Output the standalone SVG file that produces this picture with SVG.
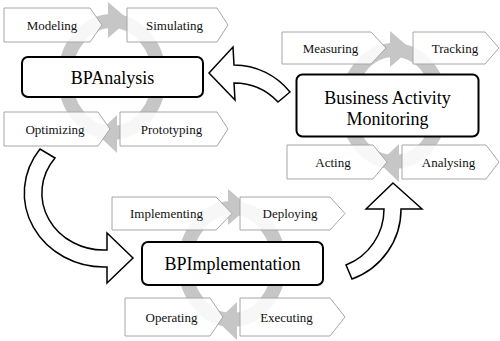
<svg xmlns="http://www.w3.org/2000/svg" xmlns:xlink="http://www.w3.org/1999/xlink" width="500" height="341" viewBox="0 0 500 341">
<style>
.tag{fill:#ffffff;fill-opacity:0.86;stroke:#a6a6a6;stroke-width:1}
.tt{font-family:"Liberation Serif","Times New Roman",serif;font-size:13px;fill:#111;text-anchor:middle}
.box{fill:#ffffff;stroke:#000;stroke-width:2}
.bt{font-family:"Liberation Serif","Times New Roman",serif;font-size:18px;fill:#000;text-anchor:middle}
.big{fill:#ffffff;stroke:#000;stroke-width:1.5;stroke-linejoin:miter}
.ringband{fill:none;stroke:#c6c6c6;stroke-width:14}
.ringhead{fill:#c6c6c6}
</style>
<defs>
<g id="ring">
<ellipse class="ringband" cx="0" cy="0" rx="47" ry="56"/>
<polygon class="ringhead" points="-4,-75 -4,-39 17,-57"/>
<polygon class="ringhead" points="5,38 5,76 -15,57"/>
</g>
</defs>
<rect width="500" height="341" fill="#ffffff"/>
<g id="rings">
<use xlink:href="#ring" href="#ring" transform="translate(112,77)"/>
<use xlink:href="#ring" href="#ring" transform="translate(394,106)"/>
<use xlink:href="#ring" href="#ring" transform="translate(232,264)"/>
</g>
<g id="connectors">
<path class="big" d="M209,73 L233,47 L234,65 A72 72 0 0 1 290,92 L278,102 A60 60 0 0 0 234,83 L235,100 Z"/>
<path class="big" d="M55,158 L40,149 A80 74 0 0 0 107,267 L107,283 L133,258 L107,233 L107,250 A62 57 0 0 1 55,158 Z"/>
<path class="big" d="M393,183 L422,209 L401,209 A74 74 0 0 1 352,279 L346,265 A60 60 0 0 0 384,209 L366,209 Z"/>
</g>
<g id="modeling"><polygon class="tag" points="4,8 90,8 102,25 90,42 4,42"/><text class="tt" x="52" y="29.5">Modeling</text></g>
<g id="simulating"><polygon class="tag" points="127,8 217,8 228,25 217,42 127,42"/><text class="tt" x="174.5" y="29.5">Simulating</text></g>
<g id="optimizing"><polygon class="tag" points="4,112 98,112 110,129 98,146 4,146"/><text class="tt" x="55" y="133.5">Optimizing</text></g>
<g id="prototyping"><polygon class="tag" points="120,112 217,112 228,129 217,146 120,146"/><text class="tt" x="171.5" y="133.5">Prototyping</text></g>
<g id="bpanalysis"><rect class="box" x="22" y="57" width="181" height="40" rx="6"/><text class="bt" x="112.5" y="83.5">BPAnalysis</text></g>
<g id="measuring"><polygon class="tag" points="282,32 371,32 386,48 371,64 282,64"/><text class="tt" x="330.5" y="52.5">Measuring</text></g>
<g id="tracking"><polygon class="tag" points="413,32 485,32 499,48 485,64 413,64"/><text class="tt" x="455" y="52.5">Tracking</text></g>
<g id="acting"><polygon class="tag" points="287,145 373,145 387,162 373,179 287,179"/><text class="tt" x="333" y="166.5">Acting</text></g>
<g id="analysing"><polygon class="tag" points="402,145 486,145 499,162 486,179 402,179"/><text class="tt" x="448.5" y="166.5">Analysing</text></g>
<g id="bam"><rect class="box" x="296.5" y="74.5" width="182" height="62" rx="6"/><text class="bt" x="387.5" y="104">Business Activity</text><text class="bt" x="387.5" y="125">Monitoring</text></g>
<g id="implementing"><polygon class="tag" points="112,197 216,197 232,213.5 216,230 112,230"/><text class="tt" x="166.5" y="217.5">Implementing</text></g>
<g id="deploying"><polygon class="tag" points="240,197 330,197 345,213.5 330,230 240,230"/><text class="tt" x="290" y="217.5">Deploying</text></g>
<g id="operating"><polygon class="tag" points="125,298 210,298 223,317 210,336 125,336"/><text class="tt" x="171.5" y="321.5">Operating</text></g>
<g id="executing"><polygon class="tag" points="240,298 330,298 345,317 330,336 240,336"/><text class="tt" x="286.5" y="321.5">Executing</text></g>
<g id="bpimplementation"><rect class="box" x="142" y="242" width="181" height="43" rx="6"/><text class="bt" x="232.5" y="270">BPImplementation</text></g>
</svg>
